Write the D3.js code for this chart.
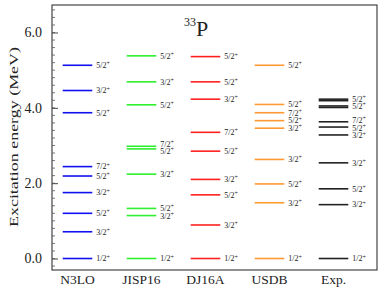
<!DOCTYPE html>
<html>
<head>
<meta charset="utf-8">
<script src="https://cdn.jsdelivr.net/npm/d3@7"></script>
<style>
  body { margin: 0; background: #fff; }
  text { font-family: "Liberation Serif", "DejaVu Serif", serif; fill: #222; }
</style>
</head>
<body>
<div id="chart"></div>
<script>
// Models shown along the x axis
var models = ["N3LO", "JISP16", "DJ16A", "USDB", "Exp."];
var colors = ["#1010f0", "#2ef02e", "#ff2020", "#ff9933", "#222222"];

// Level energies (MeV) and spin-parity labels for each model
var n3loE = [0, 0.71, 1.20, 1.75, 2.19, 2.44, 3.87, 4.46, 5.13];
var n3loJ = ["1/2", "3/2", "5/2", "3/2", "5/2", "7/2", "5/2", "3/2", "5/2"];
var jispE = [0, 1.14, 1.33, 2.24, 2.91, 2.98, 4.08, 4.69, 5.38];
var jispJ = ["1/2", "3/2", "5/2", "3/2", "5/2", "7/2", "5/2", "3/2", "5/2"];
var djE = [0, 0.89, 1.69, 2.10, 2.85, 3.35, 4.23, 4.69, 5.36];
var djJ = ["1/2", "3/2", "5/2", "3/2", "5/2", "7/2", "3/2", "5/2", "5/2"];
var usdbE = [0, 1.48, 1.98, 2.63, 3.46, 3.66, 3.87, 4.09, 5.13];
var usdbJ = ["1/2", "3/2", "5/2", "3/2", "3/2", "5/2", "7/2", "5/2", "5/2"];
var expE = [0, 1.43, 1.85, 2.54, 3.28, 3.49, 3.63, 4.01, 4.05, 4.19, 4.23];
var expJ = ["1/2", "3/2", "5/2", "3/2", "3/2", "5/2", "7/2", "", "5/2", "", "5/2"];

var yTicks = [0, 2, 4, 6];

var svgWidth = 382;
var svgHeight = 301;
var margin = { top: 5, right: 5, bottom: 31, left: 52 };
var chartWidth = svgWidth - margin.left - margin.right;
var chartHeight = svgHeight - margin.top - margin.bottom;

var svg = d3.select("#chart")
  .append("svg")
  .attr("width", svgWidth)
  .attr("height", svgHeight);

var chartGroup = svg.append("g")
  .attr("transform", `translate(${margin.left}, ${margin.top})`);

var yScale = d3.scaleLinear()
  .domain([-0.305, 6.73])
  .range([chartHeight, 0]);

var xScale = d3.scalePoint()
  .domain(models)
  .range([25.5, 281.5]);

var halfLen = 14.8;

// frame
chartGroup.append("rect")
  .attr("width", chartWidth)
  .attr("height", chartHeight)
  .attr("fill", "none")
  .attr("stroke", "#333")
  .attr("stroke-width", 1.1);

// inward ticks on the left axis
var leftAxis = d3.axisLeft(yScale)
  .tickValues(yTicks)
  .tickSize(-6)
  .tickPadding(10)
  .tickFormat(d3.format(".1f"));

var yAxis = chartGroup.append("g").call(leftAxis);
yAxis.select(".domain").remove();
yAxis.selectAll("line").attr("stroke", "#444");
yAxis.selectAll("text")
  .attr("font-size", 14)
  .attr("font-family", "Liberation Serif")
  .attr("fill", "#222");

var minorTicks = d3.range(-2, 34).map(i => i * 0.2).filter(v => v > -0.3 && v < 6.7);
chartGroup.append("g").selectAll("line")
  .data(minorTicks)
  .enter()
  .append("line")
  .attr("x1", 0)
  .attr("x2", 3)
  .attr("y1", d => yScale(d))
  .attr("y2", d => yScale(d))
  .attr("stroke", "#555")
  .attr("stroke-width", 0.8);

// axis title
svg.append("text")
  .attr("transform", `translate(18, ${margin.top + 132}) rotate(-90)`)
  .attr("text-anchor", "middle")
  .attr("font-size", 13.5)
  .attr("textLength", 180)
  .attr("lengthAdjust", "spacingAndGlyphs")
  .text("Excitation energy (MeV)");

// title 33P
var title = svg.append("text")
  .attr("x", 184)
  .attr("y", 36)
  .attr("font-size", 22);
title.append("tspan")
  .attr("font-size", 12)
  .attr("dy", -10)
  .text("33");
title.append("tspan")
  .attr("dy", 10)
  .text("P");

// spread labels that would collide, keeping each group centred
function spreadLabels(ys, gap) {
  var items = ys.map((y, i) => ({ i: i, y: y }))
    .sort((a, b) => a.y - b.y);
  var groups = items.map(d => ({ members: [d], center: d.y }));
  var merged = true;
  while (merged) {
    merged = false;
    for (var k = 0; k < groups.length - 1; k++) {
      var a = groups[k], b = groups[k + 1];
      var aBottom = a.center + (a.members.length - 1) * gap / 2;
      var bTop = b.center - (b.members.length - 1) * gap / 2;
      if (bTop - aBottom < gap) {
        var members = a.members.concat(b.members);
        var center = d3.mean(members, d => d.y);
        groups.splice(k, 2, { members: members, center: center });
        merged = true;
        break;
      }
    }
  }
  var out = [];
  groups.forEach(function(g) {
    var start = g.center - (g.members.length - 1) * gap / 2;
    g.members.forEach((m, j) => { out[m.i] = start + j * gap; });
  });
  return out;
}

var levelSets = [
  { e: n3loE, j: n3loJ },
  { e: jispE, j: jispJ },
  { e: djE, j: djJ },
  { e: usdbE, j: usdbJ },
  { e: expE, j: expJ }
];

levelSets.forEach(function(set, idx) {
  var cx = xScale(models[idx]);
  var levels = set.e.map((e, i) => ({ e: e, j: set.j[i] }));

  chartGroup.append("g").selectAll("line")
    .data(levels)
    .enter()
    .append("line")
    .attr("x1", cx - halfLen)
    .attr("x2", cx + halfLen)
    .attr("y1", d => yScale(d.e))
    .attr("y2", d => yScale(d.e))
    .attr("stroke", colors[idx])
    .attr("stroke-width", 1.6);

  var labelled = levels.filter(d => d.j !== "");
  var ly = spreadLabels(labelled.map(d => yScale(d.e)), 7.6);

  var labels = chartGroup.append("g").selectAll("text")
    .data(labelled)
    .enter()
    .append("text")
    .attr("x", cx + halfLen + 4)
    .attr("y", (d, i) => ly[i] + 2.8)
    .attr("font-size", 8)
    .attr("fill", "#333");
  labels.append("tspan").text(d => d.j);
  labels.append("tspan")
    .attr("font-size", 6)
    .attr("dy", -2.8)
    .text("+");
});

// model names under the frame
svg.append("g").selectAll("text")
  .data(models)
  .enter()
  .append("text")
  .attr("x", d => margin.left + xScale(d))
  .attr("y", 284)
  .attr("text-anchor", "middle")
  .attr("font-size", 13.5)
  .text(d => d);
</script>
</body>
</html>
